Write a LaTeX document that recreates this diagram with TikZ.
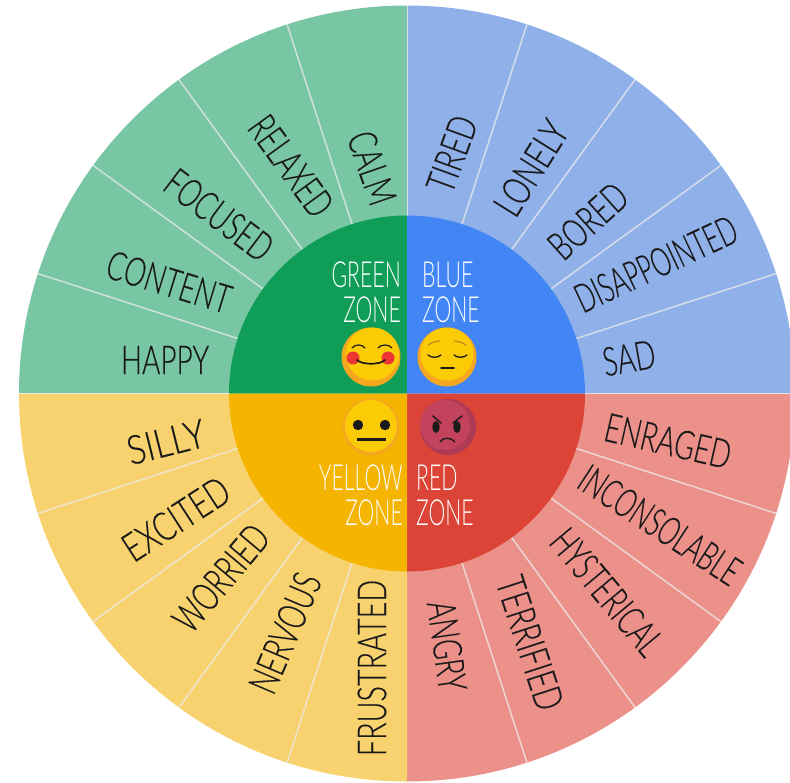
\documentclass[tikz,border=0pt]{standalone}
\usepackage{fontspec}
\setmainfont{Lato Light}
\newfontfamily\wordfont[FakeBold=.35]{Lato Light}
\definecolor{gd}{HTML}{0F9D58}\definecolor{gl}{HTML}{78C6A3}
\definecolor{bd}{HTML}{4285F4}\definecolor{bl}{HTML}{8FB0E8}
\definecolor{yd}{HTML}{F4B400}\definecolor{yl}{HTML}{F8D26F}
\definecolor{rd}{HTML}{DB4437}\definecolor{rl}{HTML}{EC918A}
\definecolor{fg}{HTML}{FBCB05}\definecolor{fo}{HTML}{F5A81F}
\definecolor{fr}{HTML}{C4435C}\definecolor{frd}{HTML}{AE3A55}
\definecolor{ink}{HTML}{1A1A1A}\definecolor{chk}{HTML}{EE3535}
\newcommand\zq[1]{\scalebox{.59}[1]{#1}}
\tikzset{
  x=1pt,y=1pt,
  word/.style={font=\wordfont\fontsize{40}{40}\selectfont,text=ink,inner sep=0pt},
  zone/.style={font=\fontsize{36}{36}\selectfont,text=white,inner sep=0pt},
  spoke/.style={draw=white!85!gray,line width=1.5pt,opacity=.75},
  faceline/.style={draw=ink,line width=1.7pt,line cap=round},
}
\begin{document}
\begin{tikzpicture}
\useasboundingbox (0,-782) rectangle (790,0);
\clip (0,-782) rectangle (790,0);
\coordinate (c) at (407,-393.5);
\def\R{388}\def\r{178}
\fill[gl] (c) -- ++(180:\R) arc (180:90:\R) -- cycle;
\fill[bl] (c) -- ++(90:\R) arc (90:0:\R) -- cycle;
\fill[rl] (c) -- ++(0:\R) arc (0:-90:\R) -- cycle;
\fill[yl] (c) -- ++(270:\R) arc (270:180:\R) -- cycle;
\foreach \a in {18,36,54,72,108,126,144,162,198,216,234,252,288,306,324,342}
  \draw[spoke] (c) ++(\a:\r) -- ++(\a:\R-\r);
\draw[spoke,opacity=.8,line width=1pt] (c) ++(90:\r) -- ++(90:\R-\r);
\draw[white,opacity=.6,line width=1pt] (c) ++(180:\R) -- ++(0:2*\R);
\fill[gd] (c) -- ++(180:\r) arc (180:90:\r) -- cycle;
\fill[bd] (c) -- ++(90:\r) arc (90:0:\r) -- cycle;
\fill[rd] (c) -- ++(0:\r) arc (0:-90:\r) -- cycle;
\fill[yd] (c) -- ++(270:\r) arc (270:180:\r) -- cycle;
% words
\foreach \n/\t/\px/\py/\rot/\sc in {
 w1/HAPPY/165/360/0/.70, w2/CONTENT/169/282/-17/.68, w3/FOCUSED/219/215/-37/.67, w4/RELAXED/291/166/-54/.66, w5/CALM/372/168/-71/.68,
 w6/TIRED/452/154/70/.70, w7/LONELY/531/168/58/.72, w8/BORED/588/221/42/.68, w9/DISAPPOINTED/656/264/25/.615, w10/SAD/629/358/10/.68,
 w11/ENRAGED/668/441/-13/.69, w12/INCONSOLABLE/660/525/-33/.62, w13/HYSTERICAL/607/592/-50/.66, w14/TERRIFIED/530/643/-72/.72, w15/ANGRY/447/646/-82/.68,
 w16/FRUSTRATED/372/668/90/.72, w17/NERVOUS/285/633/67/.68, w18/WORRIED/221/578/50/.68, w19/EXCITED/176/519/33/.74, w20/SILLY/166/442/14/.86}
  \node[word,rotate=\rot] (\n) at (\px,-\py) {\scalebox{\sc}[1]{\t}};
% zones
\node[zone,anchor=east] (z1) at (401,-275) {\zq{GREEN}};
\node[zone,anchor=east] (z2) at (401,-310) {\zq{ZONE}};
\node[zone,anchor=west] (z3) at (422,-275) {\zq{BLUE}};
\node[zone,anchor=west] (z4) at (422,-310) {\zq{ZONE}};
\node[zone,anchor=east] (z5) at (403,-478) {\zq{YELLOW}};
\node[zone,anchor=east] (z6) at (403,-513) {\zq{ZONE}};
\node[zone,anchor=west] (z7) at (416,-478) {\zq{RED}};
\node[zone,anchor=west] (z8) at (416,-513) {\zq{ZONE}};
% happy face
\fill[fo] (371,-357) circle (29.5);
\fill[fg] (372.5,-354) circle (26.5);
\fill[chk] (353,-358) circle (6.5) (388,-358) circle (6.5);
\draw[faceline] (357,-360) .. controls (362,-365) and (380,-365) .. (385,-360);
\draw[faceline,line width=1.2pt] (352,-348) .. controls (355,-344) and (362,-344) .. (365,-348);
\draw[faceline,line width=1.2pt] (378,-348) .. controls (381,-344) and (389,-344) .. (392,-348);
% sad face
\fill[fo] (447,-357) circle (29.5);
\fill[fg] (447,-354) circle (26.5);
\draw[faceline,line width=1.3pt] (428,-355) .. controls (431,-358) and (438,-358) .. (441,-355);
\draw[faceline,line width=1.3pt] (454,-355) .. controls (457,-358) and (464,-358) .. (467,-355);
\draw[draw=fo!80!black,line width=1.2pt,line cap=round] (428,-345) .. controls (432,-342) and (438,-341) .. (440,-341);
\draw[draw=fo!80!black,line width=1.2pt,line cap=round] (466,-345) .. controls (462,-342) and (456,-341) .. (454,-341);
\draw[faceline,line width=1.6pt] (441,-368) -- (454,-368);
% neutral face
\fill[fo] (371,-427) circle (28.5);
\fill[fg] (371,-426) circle (26);
\fill[ink] (358,-425) circle (5.2) (385,-425) circle (5.2);
\draw[faceline,line width=2.4pt,line cap=butt] (357,-439.5) -- (386,-439.5);
% angry face
\fill[frd] (448,-427) circle (28);
\fill[fr] (445,-425) circle (25);
\fill[ink] (436,-427) ellipse (3.6 and 6) (457,-427) ellipse (3.6 and 6);
\draw[faceline,line width=1.5pt] (433,-416) -- (441,-423);
\draw[faceline,line width=1.5pt] (462,-416) -- (453,-423);
\draw[faceline,line width=1.3pt] (440,-442) .. controls (443,-437) and (451,-437) .. (455,-442);
\end{tikzpicture}
\end{document}
